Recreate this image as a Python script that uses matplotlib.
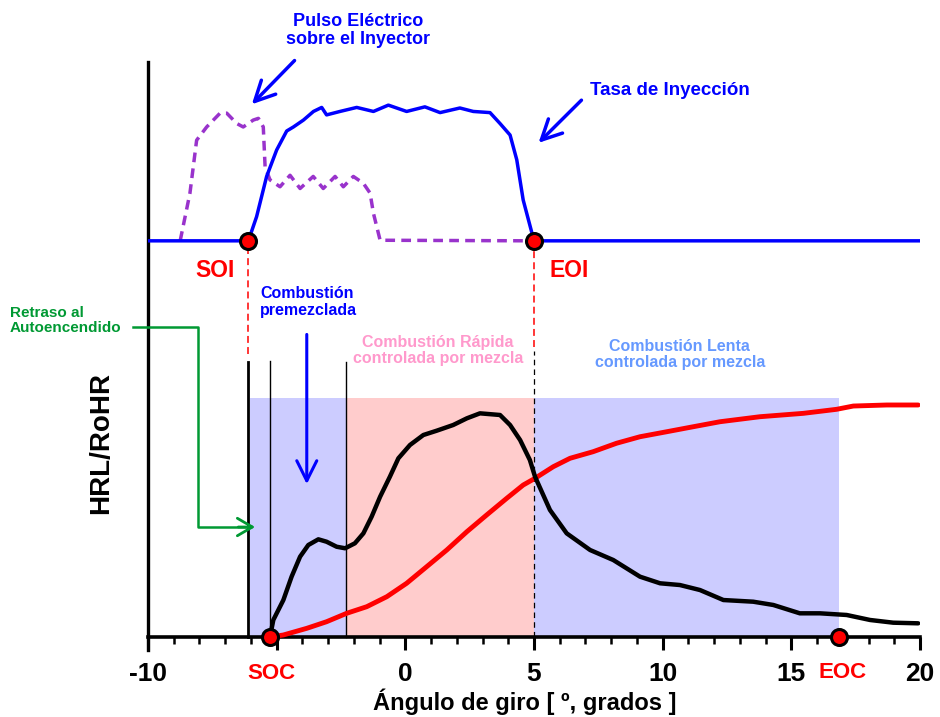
import numpy as np
import matplotlib
matplotlib.use("Agg")
import matplotlib.pyplot as plt

plt.rcParams['font.family'] = ['Liberation Sans', 'DejaVu Sans']
plt.rcParams['font.weight'] = 'bold'
plt.rcParams['lines.scale_dashes'] = False

# injection rate (blue) and electric pulse (purple dashed)
iny_x = [-10, -6.10, -5.78, -5.39, -5.00, -4.61, -4.35, -3.96, -3.57, -3.25, -3.06, -2.54,
         -1.89, -1.24, -0.66, 0.05, 0.76, 1.35, 2.12, 2.64, 3.29, 3.68, 4.07, 4.33, 4.58,
         5.0, 20]
iny_y = [68.9, 68.9, 73.1, 80.1, 84.7, 88.0, 88.7, 89.9, 91.4, 92.1, 90.8, 91.4,
         92.1, 91.4, 92.5, 91.4, 92.2, 91.2, 92.0, 91.4, 91.2, 89.3, 87.3, 83.0, 76.0,
         68.9, 68.9]

pulso_x = [-8.75, -8.37, -8.11, -7.72, -7.20, -6.94, -6.55, -6.30, -5.91, -5.71, -5.52,
           -5.45, -5.26, -4.87, -4.48, -4.09, -3.58, -3.19, -2.73, -2.41, -2.02, -1.63,
           -1.37, -1.24, -0.98, 4.96]
pulso_y = [68.9, 77.2, 86.4, 88.7, 91.1, 91.1, 89.3, 88.7, 89.9, 90.2, 88.7,
           81.8, 79.5, 78.3, 80.3, 78.0, 80.1, 78.0, 80.1, 78.3, 80.1, 78.9,
           77.2, 73.7, 69.0, 68.9]

# rate of heat release (black) and cumulative heat release (red)
hrr_x = [-5.26, -5.13, -4.74, -4.42, -4.09, -3.77, -3.38, -3.06, -2.67, -2.34, -1.96, -1.63,
         -1.31, -0.98, -0.60, -0.27, 0.18, 0.70, 1.22, 1.86, 2.39, 2.90, 3.68, 4.07, 4.46,
         4.84, 5.04, 5.62, 6.27, 7.18, 8.08, 9.12, 9.90, 10.67, 11.45, 12.36, 13.52, 14.30,
         15.33, 16.11, 17.15, 18.06, 18.96, 19.93]
hrr_y = [0, 2.96, 6.43, 10.49, 13.97, 16.0, 16.99, 16.57, 15.70, 15.43, 16.30, 18.03,
         20.92, 24.40, 27.88, 31.08, 33.39, 35.13, 35.88, 36.87, 38.03, 38.90, 38.61, 36.87, 34.26,
         30.78, 27.88, 22.09, 18.03, 15.13, 13.39, 10.49, 9.34, 9.04, 8.17, 6.43, 6.14, 5.57,
         4.12, 4.12, 3.83, 2.96, 2.49, 2.38]

hrl_x = [-5.26, -4.74, -3.83, -3.06, -2.28, -1.50, -0.72, 0.05, 0.83, 1.61, 2.39, 3.16,
         3.94, 4.58, 5.04, 5.75, 6.40, 7.30, 8.21, 9.12, 10.16, 11.19, 12.23, 13.78, 15.47,
         16.76, 17.41, 18.71, 19.93]
hrl_y = [0, 0.35, 1.51, 2.66, 4.12, 5.27, 7.01, 9.34, 12.23, 15.13, 18.31, 21.22,
         24.12, 26.43, 27.60, 29.62, 31.08, 32.23, 33.70, 34.83, 35.70, 36.57, 37.44, 38.31, 38.90,
         39.60, 40.17, 40.35, 40.35]

soi, eoi, soc, eoc = -6.10, 5.0, -5.26, 16.85
fin_premezcla = -2.30

fig = plt.figure(figsize=(9.4, 7.17), dpi=100)
ax = fig.add_axes([148/940, 1 - 650/717, 772/940, 588/717])
ax.set_xlim(-10, 20)
ax.set_ylim(-2.26, 100)

# shaded combustion phases
top = 41.5
ax.fill_between([-6.03, fin_premezcla], 0, top, color='#CCCCFF', lw=0, zorder=1)
ax.fill_between([fin_premezcla, eoi], 0, top, color='#FFCCCC', lw=0, zorder=1)
ax.fill_between([eoi, eoc], 0, top, color='#CCCCFF', lw=0, zorder=1)

# vertical markers
ax.plot([soi, soi], [0, 47.8], color='black', lw=2, zorder=2)
ax.plot([soc, soc], [0, 48.0], color='black', lw=1, zorder=2)
ax.plot([fin_premezcla, fin_premezcla], [0, 47.8], color='black', lw=1, zorder=2)
ax.plot([eoi, eoi], [0, 49.8], color='black', lw=0.9, dashes=(4, 3), zorder=2)
ax.plot([soi, soi], [49.2, 68.9], color='red', lw=1.1, dashes=(5, 3), zorder=2)
ax.plot([eoi, eoi], [50.5, 68.9], color='red', lw=1.1, dashes=(5, 3), zorder=2)

ax.plot(pulso_x, pulso_y, color='#9933CC', lw=2.5, dashes=(7, 4.5), zorder=3)
ax.plot(iny_x, iny_y, color='#0000FF', lw=2.5, zorder=4)
ax.plot(hrl_x, hrl_y, color='#FF0000', lw=3.5, zorder=4, solid_capstyle='round')
ax.plot(hrr_x, hrr_y, color='black', lw=3.2, zorder=5, solid_capstyle='round')

ax.plot([soi, eoi], [68.9, 68.9], 'o', ms=11.5, mfc='#FF0000', mec='black', mew=2.2, zorder=6, clip_on=False)
ax.plot([soc, eoc], [0, 0], 'o', ms=11.5, mfc='#FF0000', mec='black', mew=2.2, zorder=6, clip_on=False)

# axes styling
for s in ['top', 'right']:
    ax.spines[s].set_visible(False)
ax.spines['bottom'].set_position(('data', 0))
ax.spines['bottom'].set_linewidth(2.6)
ax.spines['left'].set_linewidth(2.4)
ax.set_yticks([])
ax.set_xticks([-10, -5, 0, 5, 10, 15, 20])
ax.set_xticklabels(['-10', '', '0', '5', '10', '15', '20'])
ax.set_xticks(np.arange(-10, 21, 1), minor=True)
ax.tick_params(axis='x', which='major', direction='out', length=9, width=2.2, labelsize=19, pad=9)
ax.tick_params(axis='x', which='minor', direction='out', length=5, width=1.8)

fig.text(524.5/940, 1 - 702/717, 'Ángulo de giro [ º, grados ]', fontsize=17, ha='center', va='center')
fig.text(101/940, 1 - 443/717, 'HRL/RoHR', fontsize=20, rotation=90, ha='center', va='center')

# labels
ax.text(-7.38, 63.8, 'SOI', color='red', fontsize=16.5, ha='center', va='center')
ax.text(6.36, 63.8, 'EOI', color='red', fontsize=16.5, ha='center', va='center')
ax.text(-5.22, -6.43, 'SOC', color='red', fontsize=16, ha='center', va='center')
ax.text(17.01, -6.09, 'EOC', color='red', fontsize=16, ha='center', va='center')

ax.text(-5.65, 58.2, 'Combustión\npremezclada', color='#0000FF', fontsize=11.5,
        ha='left', va='center', linespacing=1.15)
ax.text(1.27, 49.8, 'Combustión Rápida\ncontrolada por mezcla', color='#FF99CC', fontsize=11.5,
        ha='center', va='center', linespacing=1.1)
ax.text(10.67, 49.2, 'Combustión Lenta\ncontrolada por mezcla', color='#6699FF', fontsize=11.5,
        ha='center', va='center', linespacing=1.1)
ax.text(-15.36, 55.0, 'Retraso al\nAutoencendido', color='#009933', fontsize=11,
        ha='left', va='center', linespacing=1.1)
ax.text(-1.84, 105.5, 'Pulso Eléctrico\nsobre el Inyector', color='#0000FF', fontsize=13,
        ha='center', va='center', linespacing=1.1)
ax.text(7.18, 95.1, 'Tasa de Inyección', color='#0000FF', fontsize=13.5, ha='left', va='center')

# arrows
ax.plot([-10.58, -8.06, -8.06, -6.2], [53.9, 53.9, 19.13, 19.13], color='#009933', lw=1.8,
        clip_on=False, zorder=3)
ax.annotate('', xy=(-5.73, 19.13), xytext=(-6.6, 19.13),
            arrowprops=dict(arrowstyle='->, head_length=0.6, head_width=0.35', color='#009933',
                            lw=2, mutation_scale=18), annotation_clip=False)
ax.annotate('', xy=(-3.83, 26.1), xytext=(-3.83, 53.1),
            arrowprops=dict(arrowstyle='->, head_length=0.6, head_width=0.3', color='#0000FF',
                            lw=2.2, mutation_scale=24), annotation_clip=False)
ax.annotate('', xy=(-6.04, 92.3), xytext=(-4.23, 100.6),
            arrowprops=dict(arrowstyle='->, head_length=0.6, head_width=0.3', color='#0000FF',
                            lw=2.5, mutation_scale=24), annotation_clip=False)
ax.annotate('', xy=(5.10, 85.6), xytext=(6.92, 93.7),
            arrowprops=dict(arrowstyle='->, head_length=0.6, head_width=0.3', color='#0000FF',
                            lw=2.5, mutation_scale=24), annotation_clip=False)

fig.savefig('out.png', dpi=100)
